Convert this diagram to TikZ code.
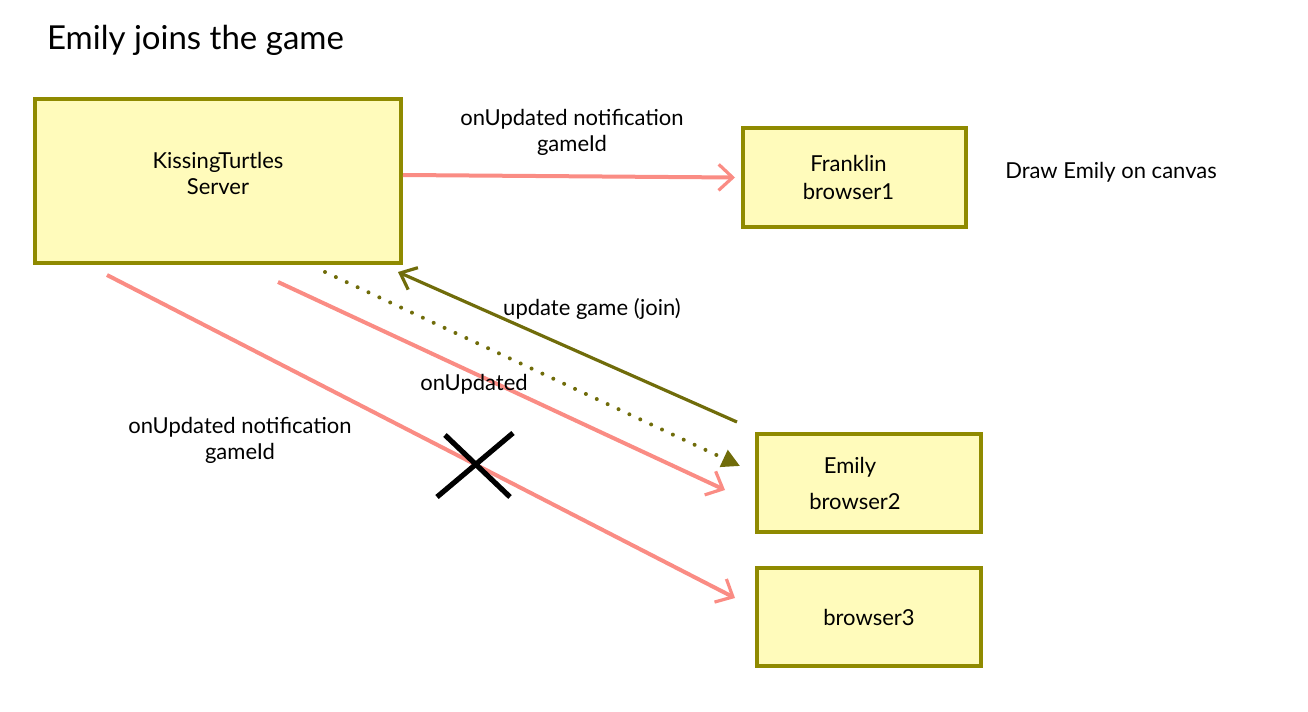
\documentclass[tikz,border=0pt]{standalone}
\usepackage{fontspec}
\setmainfont{Lato}
\usetikzlibrary{arrows.meta,positioning}
\definecolor{boxolive}{RGB}{143,138,0}
\definecolor{boxfill}{RGB}{255,251,187}
\definecolor{msgpink}{RGB}{250,140,132}
\definecolor{msgolive}{RGB}{112,108,10}

\tikzset{
  peer/.style={draw=boxolive,fill=boxfill,line width=2pt,align=center,inner sep=0pt,
               font=\fontsize{11}{13}\selectfont},
  msglabel/.style={align=center,font=\fontsize{11}{13}\selectfont},
  notify/.style={draw=msgpink,line width=2pt,
                 -{Straight Barb[length=7pt,width=13pt,line width=1.6pt]}},
  request/.style={draw=msgolive,line width=1.6pt,
                  -{Straight Barb[length=7pt,width=12pt,line width=1.6pt]}},
  reply/.style={draw=msgolive,line width=2pt,line cap=round,dash pattern=on 0pt off 6pt,
                -{Triangle[length=9pt,width=9pt]}},
  cross/.style={draw=black,line width=2.6pt}
}

\begin{document}
\begin{tikzpicture}[x=0.5pt,y=-0.5pt]
\useasboundingbox (0,0) rectangle (1308,712);

\node[anchor=west,font=\fontsize{16.5}{20}\selectfont] (title) at (40,40) {Emily joins the game};

% peers
\node[peer,minimum width=183pt,minimum height=82pt] (server) at (218,181) {KissingTurtles\\Server\\[-5pt]};
\node[peer,minimum width=111.5pt,minimum height=49.5pt] (franklin) at (854.5,177.5) {Franklin\hspace*{6pt}\\[1pt]browser1\hspace*{6pt}};
\node[peer,minimum width=112pt,minimum height=49pt] (emily) at (869,483) {Emily\hspace*{19pt}\\[5pt]browser2\hspace*{14pt}};
\node[peer,minimum width=112pt,minimum height=49pt] (browser3) at (869,617) {browser3};

\node[msglabel] (canvas) at (1111,172) {Draw Emily on canvas};

% messages
\draw[notify] ([yshift=3pt]server.east) -- ([shift={(-3pt,0pt)}]franklin.west);
\node[msglabel] (lblfranklin) at (572,132) {onUpdated notification\\gameId};

\draw[request] ([shift={(-9pt,5pt)}]emily.north west) -- ([shift={(-2.5pt,-3.5pt)}]server.south east);
\node[msglabel] (lbljoin) at (592,309) {update game (join)};

\draw[reply] ([shift={(53.5pt,-3.5pt)}]server.south) -- ([shift={(-7.5pt,8.5pt)}]emily.west);

\draw[notify] ([shift={(30pt,-8.5pt)}]server.south) -- ([shift={(-15pt,-3.5pt)}]emily.west);
\node[msglabel] (lblemily) at (474,384) {onUpdated};

\draw[notify] ([shift={(-55.5pt,-5pt)}]server.south) -- ([shift={(-10pt,9.5pt)}]browser3.west);
\node[msglabel] (lblbrowser3) at (240,440) {onUpdated notification\\gameId};

% lost message
\draw[cross] (437,497) -- (513,433) (445,435) -- (510,497);
\end{tikzpicture}
\end{document}
